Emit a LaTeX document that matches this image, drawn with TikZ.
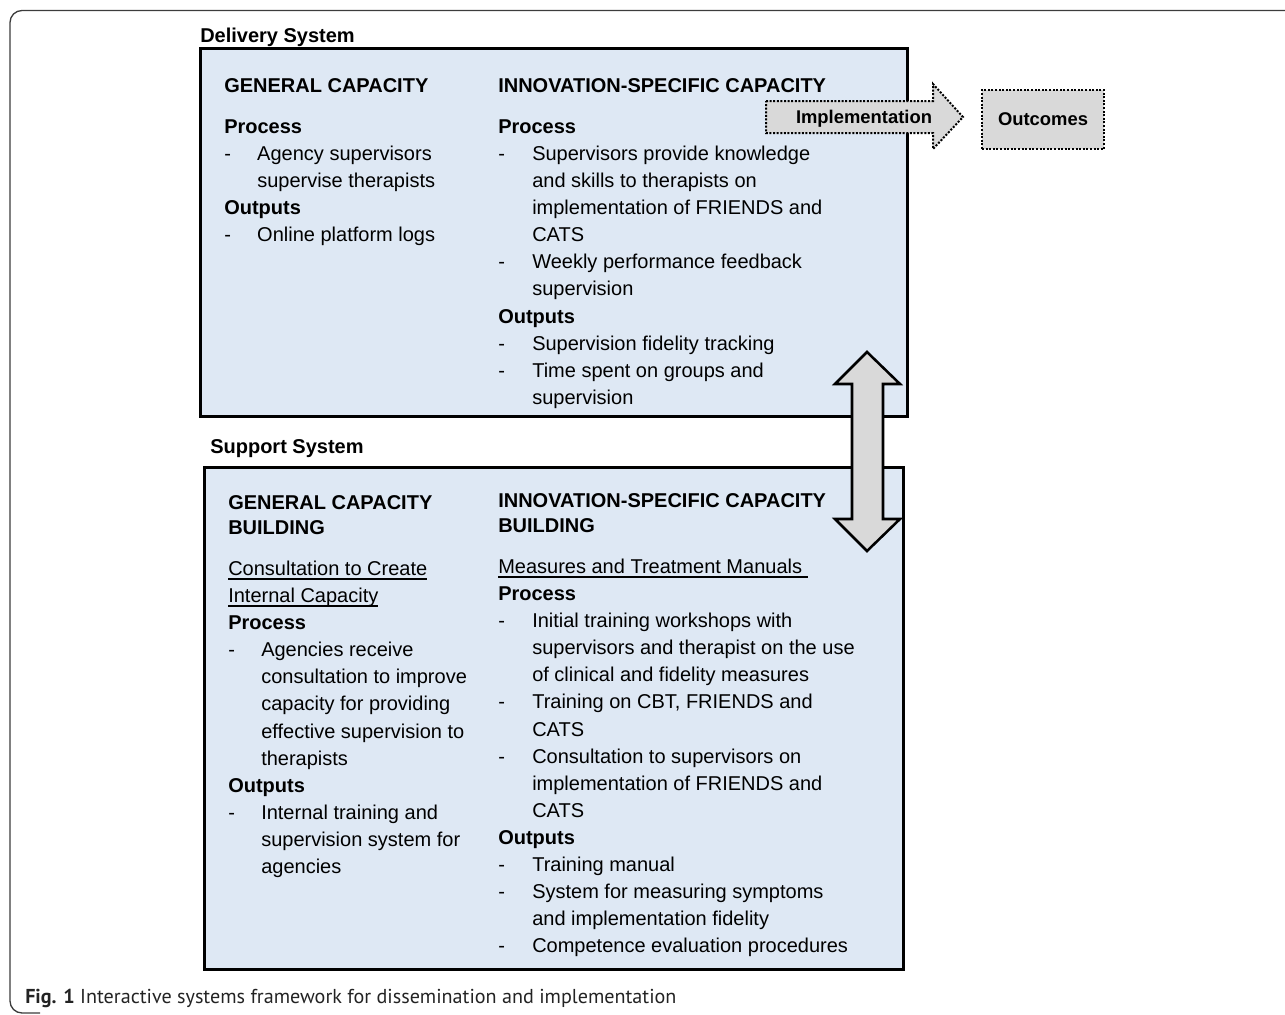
\documentclass[tikz,border=0pt]{standalone}
\usepackage{fontspec}
\setmainfont{Liberation Sans}
\newfontfamily\capfont{PT Sans}
\usetikzlibrary{fit}
\definecolor{boxblue}{RGB}{222,232,244}
\definecolor{arrgray}{RGB}{217,217,217}
\definecolor{framegray}{RGB}{60,60,60}
\definecolor{captext}{RGB}{35,35,35}
\newcommand\itemdash{\makebox[24.75pt][l]{-}}
\newcommand\itemcont{\hspace*{24.75pt}}
\newcommand\itemdashB{\makebox[25.5pt][l]{-}}
\newcommand\itemcontB{\hspace*{25.5pt}}
\newsavebox\ulbox
\newcommand\myul[1]{\sbox\ulbox{#1}\rlap{\rule[-3pt]{\wd\ulbox}{0.9pt}}\usebox\ulbox}
\begin{document}
\begin{tikzpicture}[x=0.75pt,y=-0.75pt,
  sysbox/.style={draw=black, line width=2.25pt, fill=boxblue, inner sep=0pt},
  col/.style={anchor=north west, inner sep=0pt, align=left, font=\fontsize{15}{20.32}\selectfont},
  syslabel/.style={anchor=base west, inner sep=0pt, font=\fontsize{15}{18}\selectfont\bfseries},
  dotbox/.style={draw=black, line width=1.5pt, dash pattern=on 1.5pt off 1.2pt, fill=arrgray, inner sep=0pt},
  dbl/.style={draw=black, line width=1.9pt, fill=arrgray, line join=miter},
  smalllabel/.style={anchor=base, inner sep=0pt, font=\fontsize{13.8}{16}\selectfont\bfseries}]
\useasboundingbox (0,0) rectangle (1285,1014);
% outer frame
\draw[framegray, line width=1pt, rounded corners=9pt] (1285,10.5) -- (10,10.5) -- (10,1013) -- (40,1013);
% delivery system
\node[syslabel] (dlab) at (200,42) {Delivery System};
\node[sysbox, fit={(200,48) (907,416)}] (delivery) {};
\node[col] (dleft) at (224,73.1) {\strut\textbf{GENERAL CAPACITY}\\[10.5pt]
\textbf{Process}\\
\itemdash Agency supervisors\\
\itemcont supervise therapists\\
\textbf{Outputs}\\
\itemdash Online platform logs};
\node[col] (dright) at (498,73.1) {\strut\textbf{INNOVATION-SPECIFIC CAPACITY}\\[10.5pt]
\textbf{Process}\\
\itemdashB Supervisors provide knowledge\\
\itemcontB and skills to therapists on\\
\itemcontB implementation of FRIENDS and\\
\itemcontB CATS\\
\itemdashB Weekly performance feedback\\
\itemcontB supervision\\
\textbf{Outputs}\\
\itemdashB Supervision fidelity tracking\\
\itemdashB Time spent on groups and\\
\itemcontB supervision};
% support system
\node[syslabel] (slab) at (210,453) {Support System};
\node[sysbox, fit={(204,467) (903,969)}] (support) {};
\node[col] (sleft) at (228,490.1) {\strut\textbf{GENERAL CAPACITY}\\[-1.5pt]
\textbf{BUILDING}\\[10.5pt]
\myul{Consultation to Create}\\
\myul{Internal Capacity}\\
\textbf{Process}\\
\itemdash Agencies receive\\
\itemcont consultation to improve\\
\itemcont capacity for providing\\
\itemcont effective supervision to\\
\itemcont therapists\\
\textbf{Outputs}\\
\itemdash Internal training and\\
\itemcont supervision system for\\
\itemcont agencies};
\node[col] (sright) at (498,488.1) {\strut\textbf{INNOVATION-SPECIFIC CAPACITY}\\[-1.5pt]
\textbf{BUILDING}\\[10.5pt]
\myul{Measures and Treatment Manuals\ }\\
\textbf{Process}\\
\itemdashB Initial training workshops with\\
\itemcontB supervisors and therapist on the use\\
\itemcontB of clinical and fidelity measures\\
\itemdashB Training on CBT, FRIENDS and\\
\itemcontB CATS\\
\itemdashB Consultation to supervisors on\\
\itemcontB implementation of FRIENDS and\\
\itemcontB CATS\\
\textbf{Outputs}\\
\itemdashB Training manual\\
\itemdashB System for measuring symptoms\\
\itemcontB and implementation fidelity\\
\itemdashB Competence evaluation procedures};
% implementation arrow and outcomes
\draw[dotbox] (766,101) -- (933,101) -- (933,84) -- (963,117) -- (933,149) -- (933,133) -- (766,133) -- cycle;
\node[smalllabel] (impl) at (864,123.5) {Implementation};
\node[dotbox, fit={(982,90) (1104,149)}] (outcomes) {};
\node[smalllabel] (outtxt) at (1043,125) {Outcomes};
% double arrow between systems
\draw[dbl] (867,352) -- (900,384) -- (883,384) -- (883,519) -- (900,519) -- (867,551) -- (835,519) -- (852,519) -- (852,384) -- (835,384) -- cycle;
% caption
\node[anchor=base west, inner sep=0pt, text=captext, font=\capfont\fontsize{15.1}{17}\selectfont] (caption) at (25,1003) {\textbf{Fig. 1} Interactive systems framework for dissemination and implementation};
\end{tikzpicture}
\end{document}
